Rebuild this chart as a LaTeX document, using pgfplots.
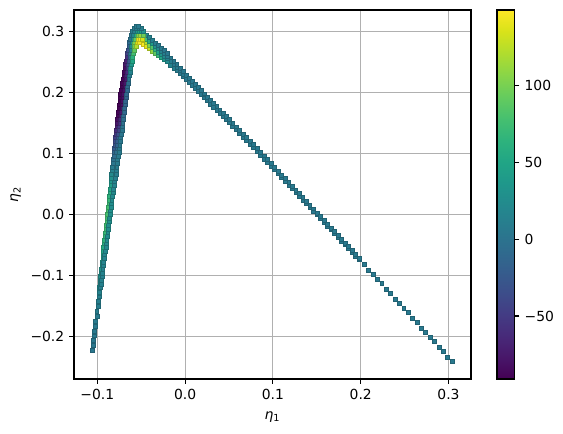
\documentclass[border=0pt]{standalone}
\usepackage{fontspec}
\setmainfont{DejaVu Sans}
\usepackage{pgfplots}
\usepackage{pgfplotstable}
\pgfplotsset{compat=1.18}
\definecolor{gridgray}{HTML}{B0B0B0}

\pgfplotstableread{
x y c
0.204 -0.0818 6
0.209 -0.0910 6
0.214 -0.0977 6
0.219 -0.1068 6
0.224 -0.1135 6
0.229 -0.1227 6
0.234 -0.1293 6
0.239 -0.1386 6
0.244 -0.1452 6
0.249 -0.1545 6
0.254 -0.1610 6
0.259 -0.1703 6
0.264 -0.1769 6
0.269 -0.1862 6
0.274 -0.1928 6
0.279 -0.2021 6
0.284 -0.2087 6
0.289 -0.2180 6
0.294 -0.2245 6
0.299 -0.2338 6
0.304 -0.2405 6
0.054 0.1449 6
0.054 0.1499 6
0.058 0.1390 6
0.058 0.1440 6
0.062 0.1331 6
0.062 0.1381 6
0.066 0.1272 6
0.066 0.1322 6
0.070 0.1213 6
0.070 0.1263 6
0.074 0.1154 6
0.074 0.1204 6
0.078 0.1095 6
0.078 0.1145 6
0.082 0.1036 6
0.082 0.1086 6
0.086 0.0977 6
0.086 0.1027 6
0.090 0.0913 6
0.090 0.0963 6
0.094 0.0852 6
0.094 0.0902 6
0.098 0.0790 6
0.098 0.0840 6
0.102 0.0733 6
0.102 0.0773 6
0.106 0.0671 6
0.106 0.0711 6
0.110 0.0609 6
0.110 0.0649 6
0.114 0.0548 6
0.114 0.0588 6
0.118 0.0486 6
0.118 0.0526 6
0.122 0.0424 6
0.122 0.0464 6
0.126 0.0362 6
0.126 0.0402 6
0.130 0.0301 6
0.130 0.0341 6
0.134 0.0239 6
0.134 0.0279 6
0.138 0.0177 6
0.138 0.0217 6
0.142 0.0115 6
0.142 0.0155 6
0.146 0.0054 6
0.146 0.0094 6
0.150 -0.0003 6
0.150 0.0027 6
0.154 -0.0065 6
0.154 -0.0035 6
0.158 -0.0127 6
0.158 -0.0097 6
0.162 -0.0188 6
0.162 -0.0158 6
0.166 -0.0250 6
0.166 -0.0220 6
0.170 -0.0312 6
0.170 -0.0282 6
0.174 -0.0374 6
0.174 -0.0344 6
0.178 -0.0436 6
0.178 -0.0406 6
0.182 -0.0497 6
0.182 -0.0467 6
0.186 -0.0559 6
0.186 -0.0529 6
0.190 -0.0621 6
0.190 -0.0591 6
0.194 -0.0683 6
0.194 -0.0653 6
0.198 -0.0744 6
0.198 -0.0714 6
-0.0165 0.2452 16
-0.0165 0.2512 10
-0.0165 0.2572 6
-0.0130 0.2406 12
-0.0130 0.2461 8
-0.0130 0.2516 6
-0.0095 0.2359 9
-0.0095 0.2409 7
-0.0095 0.2459 6
-0.0060 0.2313 7
-0.0060 0.2358 6
-0.0060 0.2403 6
-0.0025 0.2267 6
-0.0025 0.2307 6
-0.0025 0.2347 6
0.0010 0.2222 6
0.0010 0.2288 6
0.0045 0.2171 6
0.0045 0.2237 6
0.0080 0.2120 6
0.0080 0.2186 6
0.0115 0.2069 6
0.0115 0.2135 6
0.0150 0.2017 6
0.0150 0.2083 6
0.0185 0.1966 6
0.0185 0.2032 6
0.0220 0.1915 6
0.0220 0.1981 6
0.0255 0.1866 6
0.0255 0.1926 6
0.0290 0.1815 6
0.0290 0.1875 6
0.0325 0.1764 6
0.0325 0.1824 6
0.0360 0.1713 6
0.0360 0.1773 6
0.0395 0.1664 6
0.0395 0.1718 6
0.0430 0.1613 6
0.0430 0.1667 6
0.0465 0.1562 6
0.0465 0.1616 6
0.0500 0.1511 6
0.0500 0.1565 6
-0.0480 0.2788 148
-0.0480 0.2855 140
-0.0480 0.2922 95
-0.0480 0.2989 30
-0.0445 0.2754 140
-0.0445 0.2818 125
-0.0445 0.2882 75
-0.0445 0.2946 22
-0.0410 0.2719 128
-0.0410 0.2780 105
-0.0410 0.2842 58
-0.0410 0.2903 16
-0.0375 0.2685 110
-0.0375 0.2743 85
-0.0375 0.2802 42
-0.0375 0.2860 12
-0.0340 0.2650 90
-0.0340 0.2706 64
-0.0340 0.2761 32
-0.0340 0.2817 10
-0.0305 0.2616 70
-0.0305 0.2669 48
-0.0305 0.2721 24
-0.0305 0.2774 8
-0.0270 0.2582 52
-0.0270 0.2632 34
-0.0270 0.2681 17
-0.0270 0.2731 7
-0.0235 0.2547 36
-0.0235 0.2594 24
-0.0235 0.2641 12
-0.0235 0.2688 6
-0.0200 0.2513 24
-0.0200 0.2557 16
-0.0200 0.2601 9
-0.0200 0.2645 6
-0.1062 -0.223 4
-0.1047 -0.215 5
-0.1048 -0.207 5
-0.1032 -0.199 6
-0.1034 -0.191 6
-0.1019 -0.183 7
-0.1020 -0.175 8
-0.1005 -0.167 9
-0.1007 -0.159 10
-0.0993 -0.151 11
-0.0993 -0.143 12
-0.0979 -0.135 14
-0.0980 -0.127 16
-0.0977 -0.120 24
-0.0963 -0.120 14
-0.0972 -0.114 25
-0.0958 -0.114 14
-0.0967 -0.108 26
-0.0953 -0.108 15
-0.0962 -0.102 28
-0.0948 -0.102 15
-0.0957 -0.096 30
-0.0943 -0.096 16
-0.0952 -0.090 32
-0.0938 -0.090 16
-0.0947 -0.084 35
-0.0933 -0.084 17
-0.0942 -0.078 38
-0.0928 -0.078 18
-0.0937 -0.072 42
-0.0923 -0.072 19
-0.0932 -0.066 46
-0.0918 -0.066 20
-0.0933 -0.060 50
-0.0907 -0.060 21
-0.0928 -0.054 54
-0.0902 -0.054 22
-0.0923 -0.048 58
-0.0897 -0.048 23
-0.0918 -0.042 62
-0.0892 -0.042 24
-0.0912 -0.036 66
-0.0886 -0.036 25
-0.0907 -0.030 69
-0.0881 -0.030 26
-0.0902 -0.024 72
-0.0876 -0.024 27
-0.0897 -0.018 74
-0.0871 -0.018 28
-0.0892 -0.012 76
-0.0866 -0.012 28
-0.0887 -0.006 77
-0.0861 -0.006 28
-0.0882 0.000 78
-0.0856 0.000 28
-0.0877 0.006 78
-0.0851 0.006 28
-0.0872 0.012 76
-0.0846 0.012 27
-0.0867 0.018 73
-0.0841 0.018 26
-0.0862 0.024 69
-0.0836 0.024 25
-0.0862 0.030 64
-0.0826 0.030 24
-0.0857 0.036 58
-0.0821 0.036 22
-0.0852 0.042 51
-0.0816 0.042 20
-0.0846 0.048 44
-0.0810 0.048 18
-0.0841 0.054 37
-0.0805 0.054 16
-0.0842 0.060 30
-0.0794 0.060 14
-0.0837 0.066 23
-0.0789 0.066 12
-0.0832 0.072 16
-0.0784 0.072 11
-0.0827 0.078 10
-0.0779 0.078 10
-0.0822 0.084 4
-0.0774 0.084 9
-0.0817 0.090 -1
-0.0769 0.090 8
-0.0812 0.096 -6
-0.0764 0.096 8
-0.0812 0.102 -12
-0.0783 0.102 -4
-0.0754 0.102 8
-0.0807 0.108 -20
-0.0778 0.108 -8
-0.0749 0.108 7
-0.0802 0.114 -28
-0.0773 0.114 -13
-0.0744 0.114 6
-0.0797 0.120 -36
-0.0768 0.120 -19
-0.0739 0.120 5
-0.0792 0.126 -44
-0.0763 0.126 -26
-0.0734 0.126 4
-0.0790 0.132 -52
-0.0758 0.132 -33
-0.0726 0.132 3
-0.0784 0.138 -61
-0.0752 0.138 -41
-0.0720 0.138 2
-0.0779 0.144 -70
-0.0747 0.144 -49
-0.0715 0.144 0
-0.0774 0.150 -77
-0.0742 0.150 -57
-0.0710 0.150 -2
-0.0769 0.156 -83
-0.0737 0.156 -64
-0.0705 0.156 -5
-0.0764 0.162 -87
-0.0732 0.162 -70
-0.0700 0.162 -8
-0.0759 0.168 -89
-0.0727 0.168 -75
-0.0695 0.168 -10
-0.0754 0.174 -90
-0.0722 0.174 -78
-0.0690 0.174 -12
-0.0749 0.180 -90
-0.0717 0.180 -80
-0.0685 0.180 -13
-0.0744 0.186 -90
-0.0712 0.186 -82
-0.0680 0.186 -14
-0.0739 0.192 -90
-0.0707 0.192 -82
-0.0675 0.192 -14
-0.0734 0.198 -90
-0.0702 0.198 -82
-0.0670 0.198 -12
-0.0727 0.204 -90
-0.0695 0.204 -82
-0.0663 0.204 -10
-0.0720 0.210 -90
-0.0688 0.210 -80
-0.0656 0.210 -8
-0.0713 0.216 -90
-0.0681 0.216 -78
-0.0649 0.216 -4
-0.0706 0.222 -89
-0.0674 0.222 -74
-0.0642 0.222 2
-0.0698 0.228 -88
-0.0666 0.228 -68
-0.0634 0.228 8
-0.0691 0.234 -86
-0.0659 0.234 -60
-0.0627 0.234 16
-0.0684 0.240 -82
-0.0652 0.240 -50
-0.0620 0.240 26
-0.0677 0.246 -76
-0.0645 0.246 -38
-0.0613 0.246 38
-0.0670 0.252 -68
-0.0638 0.252 -25
-0.0606 0.252 50
-0.0662 0.258 -58
-0.0630 0.258 -10
-0.0598 0.258 62
-0.0655 0.264 -45
-0.0623 0.264 5
-0.0591 0.264 76
-0.0648 0.270 -32
-0.0616 0.270 15
-0.0584 0.270 90
-0.0640 0.276 -20
-0.0611 0.276 25
-0.0582 0.276 95
-0.0555 0.276 120
-0.0632 0.282 -8
-0.0604 0.282 30
-0.0576 0.282 100
-0.0548 0.282 135
-0.0521 0.282 145
-0.0623 0.288 0
-0.0595 0.288 30
-0.0567 0.288 90
-0.0540 0.288 140
-0.0513 0.288 148
-0.0486 0.288 135
-0.0614 0.294 5
-0.0587 0.294 20
-0.0560 0.294 60
-0.0533 0.294 100
-0.0506 0.294 112
-0.0479 0.294 95
-0.0600 0.300 8
-0.0575 0.300 12
-0.0550 0.300 30
-0.0525 0.300 45
-0.0500 0.300 40
-0.0475 0.300 30
-0.0577 0.306 8
-0.0552 0.306 10
-0.0527 0.306 12
-0.0502 0.306 12
-0.0560 0.309 8
-0.0535 0.309 8
}\pts

\begin{document}
\begin{tikzpicture}
\useasboundingbox (-53.28pt,-38.88pt) rectangle (352.08pt,272.88pt);
\begin{axis}[
  at={(0pt,0pt)}, anchor=south west,
  scale only axis, width=285.84pt, height=265.68pt,
  xmin=-0.1266, xmax=0.3256, ymin=-0.2700, ymax=0.3356,
  xtick={-0.1,0,0.1,0.2,0.3}, xticklabels={−0.1,0.0,0.1,0.2,0.3},
  ytick={-0.2,-0.1,0,0.1,0.2,0.3}, yticklabels={−0.2,−0.1,0.0,0.1,0.2,0.3},
  tick pos=left, tick align=outside, major tick length=3.5pt,
  tick style={black, line width=0.8pt},
  grid=major, grid style={color=gridgray, line width=0.8pt},
  axis on top,
  axis line style={line width=0.8pt},
  ticklabel style={font=\fontsize{10}{12}\selectfont},
  label style={font=\fontsize{10}{12}\selectfont},
  xlabel={\textit{η}\textsubscript{1}}, ylabel={\textit{η}\textsubscript{2}},
  xlabel style={yshift=-2pt},
  colormap name=viridis, point meta min=-91, point meta max=149,
  colorbar,
  colorbar shift/.style={xshift=18.72pt},
  colorbar style={
    scale only axis, width=12.7pt, height=265.68pt,
    at={(parent axis.north east)}, anchor=north west,
    ytick={-50,0,50,100}, yticklabels={−50,0,50,100},
    yticklabel pos=right, ytick pos=right,
    tick align=outside, major tick length=3.5pt,
    tick style={black, line width=0.8pt},
    axis line style={line width=0.8pt},
    yticklabel style={font=\fontsize{10}{12}\selectfont, anchor=west, inner sep=0pt, xshift=3.5pt},
  },
]
\addplot[scatter, only marks, mark=square*, mark size=1.4pt, point meta=explicit]
  table[x=x, y=y, meta=c] {\pts};
\end{axis}
\end{tikzpicture}
\end{document}
